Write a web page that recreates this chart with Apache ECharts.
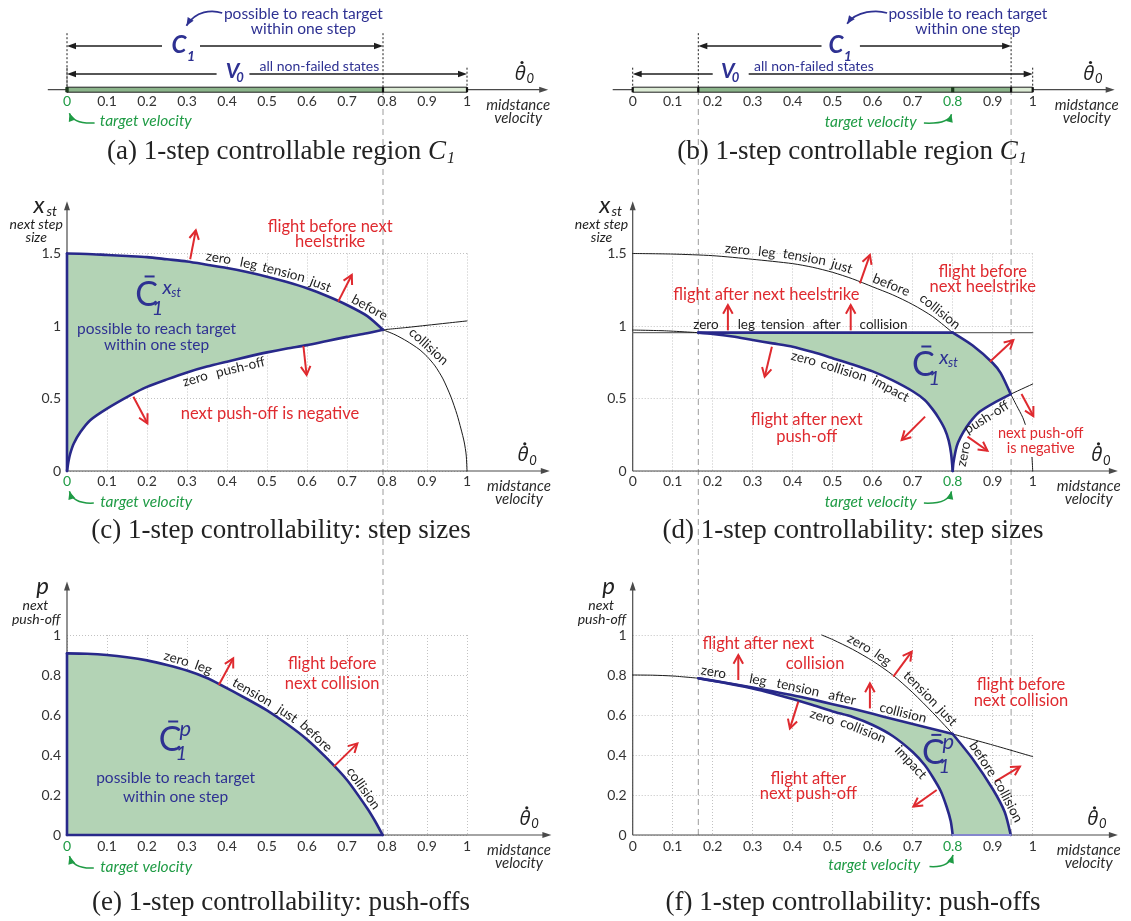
<!DOCTYPE html>
<html>
<head>
<meta charset="utf-8">
<title>1-step controllability</title>
<script src="https://cdn.jsdelivr.net/npm/echarts@6/dist/echarts.min.js"></script>
<style>
  html, body { margin: 0; padding: 0; background: #ffffff; }
  #chart { width: 1131px; height: 921px; }
</style>
</head>
<body>
<div id="chart"></div>
<script>
// ---------------- values ----------------
const X_TICKS = ['0', '0.1', '0.2', '0.3', '0.4', '0.5', '0.6', '0.7', '0.8', '0.9', '1'];
const STEP_TICKS = ['0', '0.5', '1', '1.5'];
const PUSH_TICKS = ['0', '0.2', '0.4', '0.6', '0.8', '1'];

const TARGET_LEFT = 0;      // target midstance velocity, panels a, c, e
const TARGET_RIGHT = 0.8;   // target midstance velocity, panels b, d, f
const V0_LEFT = [0, 1];
const C1_LEFT = [0, 0.79];
const V0_RIGHT = [0, 1];
const C1_RIGHT = [0.164, 0.946];

// (c) next step size, target 0
const C_TENSION = [[0, 1.5], [0.05, 1.497], [0.1, 1.49], [0.15, 1.483], [0.2, 1.475], [0.25, 1.46], [0.3, 1.445], [0.35, 1.423], [0.4, 1.4], [0.45, 1.372], [0.5, 1.34], [0.55, 1.303], [0.6, 1.26], [0.65, 1.207], [0.7, 1.145], [0.75, 1.07], [0.79, 0.974]];
const C_COLLISION = [[0.79, 0.974], [0.82, 0.94], [0.85, 0.895], [0.88, 0.84], [0.9, 0.79], [0.92, 0.725], [0.94, 0.635], [0.96, 0.51], [0.975, 0.39], [0.985, 0.29], [0.993, 0.2], [0.998, 0.11], [1, 0]];
const C_PUSHOFF = [[0, 0], [0.004, 0.07], [0.008, 0.12], [0.017, 0.19], [0.034, 0.27], [0.058, 0.35], [0.1, 0.43], [0.16, 0.525], [0.2, 0.58], [0.25, 0.632], [0.3, 0.68], [0.35, 0.72], [0.4, 0.754], [0.45, 0.787], [0.5, 0.818], [0.55, 0.845], [0.6, 0.868], [0.65, 0.897], [0.7, 0.925], [0.75, 0.95], [0.79, 0.974]];
const C_PUSHOFF_EXT = [[0.79, 0.974], [0.85, 0.99], [0.9, 1.005], [0.95, 1.02], [1, 1.035]];

// (d) next step size, target 0.8
const D_TENSION = [[0, 1.5], [0.1, 1.496], [0.2, 1.485], [0.3, 1.46], [0.4, 1.43], [0.45, 1.405], [0.5, 1.37], [0.55, 1.325], [0.6, 1.27], [0.65, 1.215], [0.7, 1.148], [0.75, 1.065], [0.8, 0.954]];
const D_TENSION_BOUND = [[0.8, 0.954], [0.85, 0.865], [0.9, 0.745], [0.92, 0.675], [0.945, 0.53]];
const D_TENSION_EXT = [[0.945, 0.53], [0.96, 0.45], [0.975, 0.37], [0.985, 0.29], [0.993, 0.2], [0.998, 0.1], [1, 0]];
const D_AFTER = [[0, 0.954], [1, 0.954]];
const D_AFTER_BOUND = [[0.164, 0.954], [0.8, 0.954]];
const D_IMPACT_LEAD = [[0, 0.972], [0.08, 0.967], [0.164, 0.954]];
const D_IMPACT = [[0.164, 0.954], [0.2, 0.945], [0.25, 0.927], [0.3, 0.903], [0.35, 0.88], [0.4, 0.857], [0.45, 0.82], [0.5, 0.778], [0.55, 0.735], [0.6, 0.687], [0.65, 0.625], [0.7, 0.55], [0.73, 0.49], [0.75, 0.425], [0.765, 0.365], [0.78, 0.29], [0.79, 0.21], [0.796, 0.12], [0.8, 0]];
const D_PUSHOFF = [[0.8, 0], [0.802, 0.06], [0.81, 0.17], [0.82, 0.235], [0.835, 0.305], [0.85, 0.36], [0.868, 0.41], [0.9, 0.465], [0.945, 0.53]];
const D_PUSHOFF_EXT = [[0.945, 0.53], [1, 0.6]];

// (e) next push-off, target 0
const E_TENSION = [[0, 0.908], [0.05, 0.906], [0.1, 0.9], [0.15, 0.889], [0.2, 0.873], [0.25, 0.85], [0.3, 0.822], [0.35, 0.785], [0.38, 0.755], [0.45, 0.68], [0.5, 0.623], [0.55, 0.555], [0.6, 0.478], [0.65, 0.383], [0.7, 0.275], [0.75, 0.135], [0.77, 0.07], [0.789, 0]];

// (f) next push-off, target 0.8
const F_AFTER = [[0, 0.8], [0.05, 0.799], [0.1, 0.795], [0.164, 0.784]];
const F_AFTER_BOUND = [[0.164, 0.784], [0.2, 0.772], [0.25, 0.755], [0.3, 0.737], [0.35, 0.718], [0.4, 0.699], [0.45, 0.677], [0.5, 0.654], [0.55, 0.631], [0.6, 0.606], [0.65, 0.58], [0.7, 0.555], [0.75, 0.53], [0.8, 0.505]];
const F_AFTER_EXT = [[0.8, 0.505], [0.9, 0.45], [1, 0.392]];
const F_TENSION = [[0.4725, 1], [0.5, 0.977], [0.55, 0.928], [0.6, 0.87], [0.65, 0.8], [0.7, 0.712], [0.75, 0.612], [0.8, 0.505]];
const F_TENSION_BOUND = [[0.8, 0.505], [0.85, 0.38], [0.9, 0.23], [0.93, 0.115], [0.945, 0]];
const F_IMPACT = [[0.164, 0.784], [0.2, 0.771], [0.25, 0.753], [0.3, 0.733], [0.35, 0.708], [0.4, 0.68], [0.45, 0.65], [0.5, 0.618], [0.55, 0.59], [0.6, 0.55], [0.65, 0.495], [0.7, 0.415], [0.73, 0.35], [0.75, 0.29], [0.77, 0.22], [0.785, 0.14], [0.795, 0.07], [0.8, 0]];

// ---------------- styling ----------------
const SANS = 'Lato, "Open Sans", "DejaVu Sans", sans-serif';
const SERIF = '"Liberation Serif", "DejaVu Serif", serif';
const GREEK = '"Open Sans", "DejaVu Sans", sans-serif';
const NAVY = '#2e3192';
const BLUE = '#28298a';
const RED = '#df2a2f';
const GREEN = '#1f9b45';
const INK = '#1e1e1e';
const AXIS = '#4a4a4a';
const FILL = '#b3d3b5';
const BAR_DARK = '#8cb58b';
const BAR_LIGHT = '#dcebd5';
const THIN = '#1a1a1a';

// ---------------- drawing helpers ----------------
function txt(p, text, fill, font, rot, extra) {
  const style = Object.assign({ text: text, fill: fill, font: font, align: 'center', verticalAlign: 'middle' }, extra || {});
  return { type: 'text', x: p[0], y: p[1], rotation: rot || 0, style: style };
}
function seg(p1, p2, stroke, w, dash) {
  const style = { stroke: stroke, lineWidth: w };
  if (dash) style.lineDash = dash;
  return { type: 'line', shape: { x1: p1[0], y1: p1[1], x2: p2[0], y2: p2[1] }, style: style };
}
function headFilled(tip, ang, len, half, color) {
  const bx = tip[0] - len * Math.cos(ang), by = tip[1] - len * Math.sin(ang);
  const px = -Math.sin(ang) * half, py = Math.cos(ang) * half;
  return { type: 'polygon', shape: { points: [tip, [bx + px, by + py], [bx - px, by - py]] }, style: { fill: color } };
}
function headOpen(tip, ang, len, spread, color, w) {
  const a1 = ang + Math.PI - spread, a2 = ang + Math.PI + spread;
  return { type: 'polyline', shape: { points: [[tip[0] + len * Math.cos(a1), tip[1] + len * Math.sin(a1)], tip, [tip[0] + len * Math.cos(a2), tip[1] + len * Math.sin(a2)]] },
    style: { stroke: color, lineWidth: w, fill: null, lineJoin: 'miter' } };
}
function redArrow(c, a) {
  const p1 = c([a[0], a[1]]), p2 = c([a[2], a[3]]);
  const ang = Math.atan2(p2[1] - p1[1], p2[0] - p1[0]);
  return [seg(p1, p2, RED, 2), headOpen(p2, ang, 10, 0.5, RED, 2)];
}
function curvedArrow(c, pts, color, w) {
  const p = pts.map(c);
  const shape = { x1: p[0][0], y1: p[0][1], x2: p[p.length - 1][0], y2: p[p.length - 1][1], cpx1: p[1][0], cpy1: p[1][1] };
  if (p.length === 4) { shape.cpx2 = p[2][0]; shape.cpy2 = p[2][1]; }
  const last = p[p.length - 2], end = p[p.length - 1];
  const ang = Math.atan2(end[1] - last[1], end[0] - last[0]);
  return [{ type: 'bezierCurve', shape: shape, style: { stroke: color, lineWidth: w, fill: null } }, headFilled(end, ang, 8, 3.5, color)];
}
function theta(p) {
  return [
    txt(p, 'θ', '#222', 'italic 20px ' + GREEK),
    { type: 'circle', shape: { cx: p[0] + 1.8, cy: p[1] - 11.5, r: 1.6 }, style: { fill: '#222' } },
    txt([p[0] + 10, p[1] + 5], '0', '#222', 'italic 13px ' + SANS)
  ];
}
function midstance(c, m) {
  return [txt(c(m[0]), 'midstance', '#2a2a2a', 'italic 15px ' + SANS), txt(c(m[1]), 'velocity', '#2a2a2a', 'italic 15px ' + SANS)];
}
function nearest(pts, p) {
  let best = null;
  for (let i = 0; i < pts.length - 1; i++) {
    const a = pts[i], b = pts[i + 1];
    const dx = b[0] - a[0], dy = b[1] - a[1], L2 = dx * dx + dy * dy;
    if (L2 === 0) continue;
    let t = ((p[0] - a[0]) * dx + (p[1] - a[1]) * dy) / L2;
    t = Math.max(0, Math.min(1, t));
    const q = [a[0] + t * dx, a[1] + t * dy];
    const d = Math.hypot(p[0] - q[0], p[1] - q[1]);
    if (!best || d < best.d) { const L = Math.sqrt(L2); best = { d: d, q: q, tx: dx / L, ty: dy / L }; }
  }
  return best;
}
// a word set along a curve: snapped to the curve, turned with its tangent
function word(c, curve, at, text, side) {
  const pts = curve.map(c);
  const nb = nearest(pts, c(at));
  let tx = nb.tx, ty = nb.ty;
  if (tx < 0) { tx = -tx; ty = -ty; }
  const nx = ty, ny = -tx, g = 8.5 * side;
  return txt([nb.q[0] + g * nx, nb.q[1] + g * ny], text, INK, '13.5px ' + SANS, -Math.atan2(ty, tx));
}
function cbar(c, at, sup) {
  const p = c(at), el = [];
  el.push(txt(p, 'C', NAVY, '34px ' + SANS));
  el.push(seg([p[0] - 2, p[1] - 18.5], [p[0] + 8, p[1] - 18.5], NAVY, 2));
  if (sup === 'xst') {
    el.push(txt([p[0] + 20.5, p[1] - 7], 'x', NAVY, 'italic 20px ' + SANS));
    el.push(txt([p[0] + 29.5, p[1] - 2], 'st', NAVY, 'italic 13px ' + SANS));
  } else {
    el.push(txt([p[0] + 15, p[1] - 11], 'p', NAVY, 'italic 22px ' + SANS));
  }
  el.push(txt([p[0] + 11, p[1] + 13.5], '1', NAVY, 'italic 20px ' + SANS));
  return el;
}
function dblArrow(c, v0, v1, h, gap) {
  const a = c([v0, h]), b = c([v1, h]), g0 = c([gap[0], h]), g1 = c([gap[1], h]);
  return [seg([a[0] + 4, a[1]], g0, INK, 1.3), seg(g1, [b[0] - 4, b[1]], INK, 1.3),
    headFilled(a, Math.PI, 9, 3.2, INK), headFilled(b, 0, 9, 3.2, INK)];
}

// ---------------- number lines (a), (b) ----------------
const LAYOUT_A = { axis: [-0.048, 1.203], cV: 0.28, cGap: [0.2375, 0.3325], vV: 0.414, vGap: [0.374, 0.456], allAt: [0.631, 23],
  reachAt: [0.591, 75.7, 60.4], reachArrow: [[0.388, 76.7], [0.362, 80], [0.322, 79], [0.2986, 64]],
  tgt: [0.197, -31.3], tgtArrow: [[0.069, -33.3], [0.016, -34.5], [0.006, -23.5]],
  theta: [1.133, 15.7], mid: [[1.128, -15.3], [1.128, -28.3]] };
const LAYOUT_B = { axis: [-0.05, 1.205], cV: 0.508, cGap: [0.472, 0.568], vV: 0.238, vGap: [0.2, 0.29], allAt: [0.453, 23],
  reachAt: [0.838, 75.7, 60.4], reachArrow: [[0.636, 76.7], [0.61, 80], [0.56, 79], [0.536, 66]],
  tgt: [0.595, -32], tgtArrow: [[0.728, -33.3], [0.79, -34.5], [0.797, -24.5]],
  theta: [1.14, 15.7], mid: [[1.135, -15.3], [1.135, -28.3]] };

function numberLine(c, V0, C1, target, L) {
  const el = [], H = 2.5;
  el.push(seg(c([L.axis[0], 0]), c([L.axis[1] - 0.01, 0]), AXIS, 1.2));
  el.push(headFilled(c([L.axis[1], 0]), 0, 9, 3, AXIS));
  [V0[0], V0[1]].forEach(v => el.push(seg(c([v, 0]), c([v, 22.7]), INK, 1, [2, 2])));
  [C1[0], C1[1]].forEach(v => el.push(seg(c([v, H]), c([v, 56.7]), INK, 1, [2, 2])));
  [[V0[0], C1[0], BAR_LIGHT], [C1[0], C1[1], BAR_DARK], [C1[1], V0[1], BAR_LIGHT]].forEach(part => {
    if (part[1] > part[0]) {
      el.push({ type: 'polygon', shape: { points: [c([part[0], H]), c([part[1], H]), c([part[1], -H]), c([part[0], -H])] },
        style: { fill: part[2], stroke: '#1f1f1f', lineWidth: 1 } });
    }
  });
  [V0[0], V0[1], C1[0], C1[1]].forEach(v => el.push(seg(c([v, -H]), c([v, H]), '#111', 2.2)));
  const tp = c([target, 0]), top = c([0, H])[1], bot = c([0, -H])[1];
  el.push({ type: 'rect', shape: { x: tp[0] - 1.6, y: top, width: 3.2, height: bot - top }, style: { fill: '#1c3a1c' } });
  el.push(...dblArrow(c, C1[0], C1[1], 43.7, L.cGap));
  el.push(...dblArrow(c, V0[0], V0[1], 15.7, L.vGap));
  const pc = c([L.cV, 44.4]);
  el.push(txt(pc, 'C', NAVY, 'italic bold 24px ' + SANS), txt([pc[0] + 12, pc[1] + 11.4], '1', NAVY, 'italic bold 14px ' + SANS));
  const pv = c([L.vV, 18.9]);
  el.push(txt(pv, 'V', NAVY, 'italic bold 21px ' + SANS), txt([pv[0] + 7.5, pv[1] + 6.7], '0', NAVY, 'italic bold 13px ' + SANS));
  el.push(txt(c(L.allAt), 'all non-failed states', NAVY, '14px ' + SANS));
  el.push(txt(c([L.reachAt[0], L.reachAt[1]]), 'possible to reach target', NAVY, '15.5px ' + SANS));
  el.push(txt(c([L.reachAt[0], L.reachAt[2]]), 'within one step', NAVY, '15.5px ' + SANS));
  el.push(...curvedArrow(c, L.reachArrow, NAVY, 1.8));
  el.push(txt(c(L.tgt), 'target velocity', GREEN, 'italic 15.5px ' + SANS));
  el.push(...curvedArrow(c, L.tgtArrow, GREEN, 1.5));
  el.push(...theta(c(L.theta)));
  el.push(...midstance(c, L.mid));
  return el;
}

// ---------------- plot panels (c)-(f) ----------------
const C_TOP = C_TENSION.concat(C_COLLISION.slice(1));
const D_TOP = D_TENSION.concat(D_TENSION_BOUND.slice(1), D_TENSION_EXT.slice(1));
const D_PUSH = D_PUSHOFF.concat(D_PUSHOFF_EXT.slice(1));
const F_TOP = F_TENSION.concat(F_TENSION_BOUND.slice(1));
const F_AFT = F_AFTER.concat(F_AFTER_BOUND.slice(1), F_AFTER_EXT.slice(1));

const SPEC = {
  c: { xEnd: 1.207, yEnd: 1.86,
    yTitle: { main: 'x', sub: 'st', mainAt: [-0.07, 1.83], subAt: [-0.038, 1.79], lines: ['next step', 'size'], linesAt: [[-0.077, 1.703], [-0.077, 1.61]] },
    theta: [1.14, 0.108], mid: [[1.13, -0.106], [1.13, -0.195]],
    tgt: [0.198, -0.216], tgtArrow: [[0.067, -0.221], [0.016, -0.229], [0.006, -0.14]],
    cbar: [[0.199, 1.214], 'xst'],
    navy: [['possible to reach target', 0.224, 0.977], ['within one step', 0.224, 0.869]],
    red: [['flight before next', 0.658, 1.685], ['heelstrike', 0.658, 1.581], ['next push-off is negative', 0.5075, 0.393]],
    arrows: [[0.308, 1.46, 0.322, 1.66], [0.678, 1.168, 0.712, 1.352], [0.591, 0.862, 0.599, 0.662], [0.166, 0.512, 0.201, 0.329]],
    words: [[C_TOP, [[0.378, 1.455, 'zero'], [0.453, 1.414, 'leg'], [0.54, 1.352, 'tension'], [0.632, 1.271, 'just'], [0.753, 1.11, 'before'], [0.888, 0.81, 'collision']], 1],
      [C_PUSHOFF, [[0.318, 0.662, 'zero'], [0.43, 0.754, 'push-off']], -1]] },
  d: { xEnd: 1.213, yEnd: 1.86,
    yTitle: { main: 'x', sub: 'st', mainAt: [-0.07, 1.83], subAt: [-0.04, 1.79], lines: ['next step', 'size'], linesAt: [[-0.078, 1.703], [-0.078, 1.61]] },
    theta: [1.16, 0.108], mid: [[1.14, -0.106], [1.14, -0.195]],
    tgt: [0.595, -0.216], tgtArrow: [[0.728, -0.221], [0.79, -0.229], [0.797, -0.14]],
    cbar: [[0.7266, 0.731], 'xst'],
    navy: [],
    red: [['flight after next heelstrike', 0.334, 1.214], ['flight before', 0.875, 1.375], ['next heelstrike', 0.875, 1.272], ['flight after next', 0.435, 0.352], ['push-off', 0.435, 0.237]],
    note: [['next push-off', 1.02, 0.26], ['is negative', 1.02, 0.156]],
    arrows: [[0.238, 0.97, 0.238, 1.145], [0.545, 0.97, 0.545, 1.145], [0.568, 1.294, 0.593, 1.49], [0.348, 0.857, 0.33, 0.65], [0.731, 0.375, 0.6725, 0.214], [0.893, 0.754, 0.9516, 0.903], [0.972, 0.531, 1.0016, 0.379], [0.837, 0.237, 0.887, 0.14]],
    words: [[D_TOP, [[0.261, 1.503, 'zero'], [0.334, 1.469, 'leg'], [0.426, 1.421, 'tension'], [0.517, 1.363, 'just'], [0.638, 1.225, 'before'], [0.765, 1.09, 'collision']], 1],
      [D_AFTER, [[0.183, 0.954, 'zero'], [0.284, 0.954, 'leg'], [0.375, 0.954, 'tension'], [0.485, 0.954, 'after'], [0.627, 0.954, 'collision']], 1],
      [D_IMPACT, [[0.4266, 0.766, 'zero'], [0.527, 0.685, 'collision'], [0.639, 0.536, 'impact']], -1],
      [D_PUSH, [[0.822, 0.12, 'zero'], [0.885, 0.37, 'push-off']], -1]] },
  e: { xEnd: 1.211, yEnd: 1.267,
    yTitle: { main: 'p', mainAt: [-0.061, 1.245], lines: ['next', 'push-off'], linesAt: [[-0.079, 1.15], [-0.077, 1.08]] },
    theta: [1.145, 0.0785], mid: [[1.13, -0.0765], [1.13, -0.1415]],
    tgt: [0.198, -0.158], tgtArrow: [[0.067, -0.165], [0.016, -0.171], [0.006, -0.105]],
    cbar: [[0.258, 0.475], 'p'],
    navy: [['possible to reach target', 0.2716, 0.2835], ['within one step', 0.2716, 0.1885]],
    red: [['flight before', 0.663, 0.855], ['next collision', 0.663, 0.755]],
    arrows: [[0.3795, 0.75, 0.4155, 0.883], [0.667, 0.342, 0.726, 0.458]],
    words: [[E_TENSION, [[0.2716, 0.8665, 'zero'], [0.339, 0.825, 'leg'], [0.46, 0.7, 'tension'], [0.546, 0.5915, 'just'], [0.618, 0.4835, 'before'], [0.735, 0.225, 'collision']], 1]] },
  f: { xEnd: 1.213, yEnd: 1.267,
    yTitle: { main: 'p', mainAt: [-0.06, 1.245], lines: ['next', 'push-off'], linesAt: [[-0.079, 1.15], [-0.077, 1.08]] },
    theta: [1.15, 0.0785], mid: [[1.14, -0.0765], [1.14, -0.1415]],
    tgt: [0.604, -0.15], tgtArrow: [[0.742, -0.158], [0.79, -0.165], [0.801, -0.1]],
    cbar: [[0.7516, 0.408], 'p'],
    navy: [],
    red: [['flight after next', 0.314, 0.955], ['collision', 0.456, 0.8585], ['flight before', 0.9707, 0.75], ['next collision', 0.9707, 0.6715], ['flight after', 0.439, 0.2835], ['next push-off', 0.439, 0.2085]],
    arrows: [[0.264, 0.775, 0.264, 0.9], [0.593, 0.633, 0.593, 0.758], [0.6516, 0.792, 0.6975, 0.917], [0.414, 0.667, 0.393, 0.533], [0.76, 0.225, 0.7016, 0.142], [0.906, 0.267, 0.968, 0.342]],
    words: [[F_AFT, [[0.2016, 0.8085, 'zero'], [0.3125, 0.7665, 'leg'], [0.4125, 0.73, 'tension'], [0.524, 0.688, 'after'], [0.675, 0.604, 'collision']], 1],
      [F_TOP, [[0.56, 0.9335, 'zero'], [0.618, 0.8665, 'leg'], [0.714, 0.7165, 'tension'], [0.785, 0.5915, 'just'], [0.8725, 0.375, 'before'], [0.931, 0.1665, 'collision']], 1],
      [F_IMPACT, [[0.4766, 0.605, 'zero'], [0.5766, 0.525, 'collision'], [0.693, 0.3585, 'impact']], -1]] }
};

function axesArrows(c, S) {
  const o = c([0, 0]), xe = c([S.xEnd, 0]), ye = c([0, S.yEnd]);
  return [seg(o, [xe[0] - 4, xe[1]], AXIS, 1.2), headFilled(xe, 0, 9, 3, AXIS),
    seg(o, [ye[0], ye[1] + 4], AXIS, 1.2), headFilled(ye, -Math.PI / 2, 9, 3, AXIS)];
}
function plotLabels(c, S) {
  const el = [];
  const yt = S.yTitle;
  el.push(txt(c(yt.mainAt), yt.main, '#222', 'italic 24px ' + SANS));
  if (yt.sub) el.push(txt(c(yt.subAt), yt.sub, '#222', 'italic 14px ' + SANS));
  yt.lines.forEach((s, i) => el.push(txt(c(yt.linesAt[i]), s, '#222', 'italic 14px ' + SANS)));
  el.push(...theta(c(S.theta)));
  el.push(...midstance(c, S.mid));
  el.push(txt(c(S.tgt), 'target velocity', GREEN, 'italic 15.5px ' + SANS));
  el.push(...curvedArrow(c, S.tgtArrow, GREEN, 1.5));
  el.push(...cbar(c, S.cbar[0], S.cbar[1]));
  S.navy.forEach(t => el.push(txt(c([t[1], t[2]]), t[0], NAVY, '15.5px ' + SANS)));
  S.red.forEach(t => el.push(txt(c([t[1], t[2]]), t[0], RED, '16.5px ' + SANS)));
  (S.note || []).forEach(t => el.push(txt(c([t[1], t[2]]), t[0], RED, '14.5px ' + SANS, 0, { backgroundColor: '#ffffff', padding: [1, 2] })));
  S.arrows.forEach(a => el.push(...redArrow(c, a)));
  S.words.forEach(group => group[1].forEach(w => el.push(word(c, group[0], [w[0], w[1]], w[2], group[2]))));
  return el;
}

// ---------------- option ----------------
const GRIDS = [
  { left: 67, top: 0, width: 400, height: 89.7 },
  { left: 632.7, top: 0, width: 400, height: 89.7 },
  { left: 67, top: 253.5, width: 400, height: 217.5 },
  { left: 632.7, top: 253.5, width: 400, height: 217.5 },
  { left: 67, top: 635, width: 400, height: 200 },
  { left: 632.7, top: 635, width: 400, height: 200 }
].map(g => Object.assign({ containLabel: false, outerBoundsMode: 'none' }, g));

const TARGETS = [TARGET_LEFT, TARGET_RIGHT, TARGET_LEFT, TARGET_RIGHT, TARGET_LEFT, TARGET_RIGHT];
const DOTTED = { color: '#c2c2c2', type: [1, 2], width: 1 };

const xAxes = TARGETS.map((target, gi) => ({
  gridIndex: gi, type: 'value', min: 0, max: 1, interval: 0.1,
  axisLine: { show: false }, axisTick: { show: false },
  splitLine: { show: gi >= 2, lineStyle: DOTTED },
  axisLabel: { margin: gi < 2 ? 5 : (gi < 4 ? 3 : 4), fontSize: 14, fontFamily: SANS, showMinLabel: true, showMaxLabel: true, hideOverlap: false,
    color: v => (Math.abs(Number(v) - target) < 1e-6 ? GREEN : '#333'),
    formatter: v => X_TICKS[Math.round(Number(v) * 10)] }
}));

function valueAxis(gi, max, interval, labels) {
  return { gridIndex: gi, type: 'value', min: 0, max: max, interval: interval,
    axisLine: { show: false }, axisTick: { show: false }, splitLine: { show: true, lineStyle: DOTTED },
    axisLabel: { margin: 6, fontSize: 14, fontFamily: SANS, color: '#333', showMinLabel: true, showMaxLabel: true,
      formatter: v => labels[Math.round(Number(v) / interval)] } };
}
const yAxes = [
  { gridIndex: 0, type: 'value', min: 0, max: 89.7, show: false },
  { gridIndex: 1, type: 'value', min: 0, max: 89.7, show: false },
  valueAxis(2, 1.5, 0.5, STEP_TICKS),
  valueAxis(3, 1.5, 0.5, STEP_TICKS),
  valueAxis(4, 1, 0.2, PUSH_TICKS),
  valueAxis(5, 1, 0.2, PUSH_TICKS)
];

function customS(gi, z, build) {
  return { type: 'custom', xAxisIndex: gi, yAxisIndex: gi, z: z, silent: true, data: [[0, 0]],
    renderItem: (params, api) => ({ type: 'group', children: build(d => api.coord(d)) }) };
}
function fillS(gi, pts) {
  return customS(gi, 2, c => [{ type: 'polygon', shape: { points: pts.map(c) }, style: { fill: FILL } }]);
}
function lineS(gi, data, color, width, z) {
  return { type: 'line', xAxisIndex: gi, yAxisIndex: gi, data: data, symbol: 'none', showSymbol: false,
    smooth: 0.25, clip: false, silent: true, z: z || 5,
    lineStyle: { color: color, width: width, cap: 'round', join: 'round' } };
}
const blue = (gi, d) => lineS(gi, d, BLUE, 2.6, 6);
const thin = (gi, d) => lineS(gi, d, THIN, 1, 5);

// dashed guides that run down from the number lines through the step-size and push-off panels
const GUIDE_TOP = 3.715;
function guides(gi, vs) {
  return customS(gi, 3, c => vs.map(v => seg(c([v, 0]), c([v, GUIDE_TOP]), '#9c9c9c', 1, [6, 4])));
}

const series = [
  customS(0, 8, c => numberLine(c, V0_LEFT, C1_LEFT, TARGET_LEFT, LAYOUT_A)),
  customS(1, 8, c => numberLine(c, V0_RIGHT, C1_RIGHT, TARGET_RIGHT, LAYOUT_B)),
  guides(4, [C1_LEFT[1]]),
  guides(5, [C1_RIGHT[0], C1_RIGHT[1]]),

  fillS(2, [[0, 0]].concat(C_TENSION, C_PUSHOFF.slice().reverse())),
  fillS(3, D_AFTER_BOUND.concat(D_TENSION_BOUND, D_PUSHOFF.slice().reverse(), D_IMPACT.slice().reverse())),
  fillS(4, [[0, 0]].concat(E_TENSION)),
  fillS(5, F_AFTER_BOUND.concat(F_TENSION_BOUND, F_IMPACT.slice().reverse())),

  customS(2, 4, c => axesArrows(c, SPEC.c)),
  customS(3, 4, c => axesArrows(c, SPEC.d)),
  customS(4, 4, c => axesArrows(c, SPEC.e)),
  customS(5, 4, c => axesArrows(c, SPEC.f)),

  thin(2, C_COLLISION), thin(2, C_PUSHOFF_EXT),
  blue(2, C_TENSION), blue(2, C_PUSHOFF), blue(2, [[0, 0], C_TENSION[0]]),

  lineS(3, D_AFTER, '#6b6b6b', 1.4, 5),
  thin(3, D_TENSION), thin(3, D_TENSION_EXT), thin(3, D_IMPACT_LEAD), thin(3, D_PUSHOFF_EXT),
  blue(3, D_AFTER_BOUND), blue(3, D_TENSION_BOUND), blue(3, D_IMPACT), blue(3, D_PUSHOFF),

  blue(4, E_TENSION), blue(4, [[0, 0], E_TENSION[0]]), blue(4, [[0, 0], E_TENSION[E_TENSION.length - 1]]),

  thin(5, F_AFTER), thin(5, F_AFTER_EXT), thin(5, F_TENSION),
  blue(5, F_AFTER_BOUND), blue(5, F_TENSION_BOUND), blue(5, F_IMPACT),
  lineS(5, [F_IMPACT[F_IMPACT.length - 1], F_TENSION_BOUND[F_TENSION_BOUND.length - 1]], '#8487cc', 2.2, 6),

  customS(2, 10, c => plotLabels(c, SPEC.c)),
  customS(3, 10, c => plotLabels(c, SPEC.d)),
  customS(4, 10, c => plotLabels(c, SPEC.e)),
  customS(5, 10, c => plotLabels(c, SPEC.f))
];

function caption(x, y, text) {
  return { type: 'text', x: x, y: y, z: 20, silent: true,
    style: { text: text, fill: '#222', fontSize: 27, fontFamily: SERIF, align: 'center', verticalAlign: 'middle',
      rich: { c: { fontSize: 27, fontFamily: SERIF, fontStyle: 'italic', fill: '#222' },
              s: { fontSize: 16, fontFamily: SERIF, fontStyle: 'italic', fill: '#222', padding: [14, 0, 0, 1] } } } };
}

const option = {
  backgroundColor: '#ffffff',
  animation: false,
  grid: GRIDS,
  xAxis: xAxes,
  yAxis: yAxes,
  series: series,
  graphic: [
    caption(281, 152, '(a) 1-step controllable region {c|C}{s|1}'),
    caption(852, 152, '(b) 1-step controllable region {c|C}{s|1}'),
    caption(281, 531, '(c) 1-step controllability: step sizes'),
    caption(853, 531, '(d) 1-step controllability: step sizes'),
    caption(281, 903, '(e) 1-step controllability: push-offs'),
    caption(853, 903, '(f) 1-step controllability: push-offs')
  ]
};

const chart = echarts.init(document.getElementById('chart'), null, { renderer: 'canvas', width: 1131, height: 921 });
chart.setOption(option);
</script>
</body>
</html>
